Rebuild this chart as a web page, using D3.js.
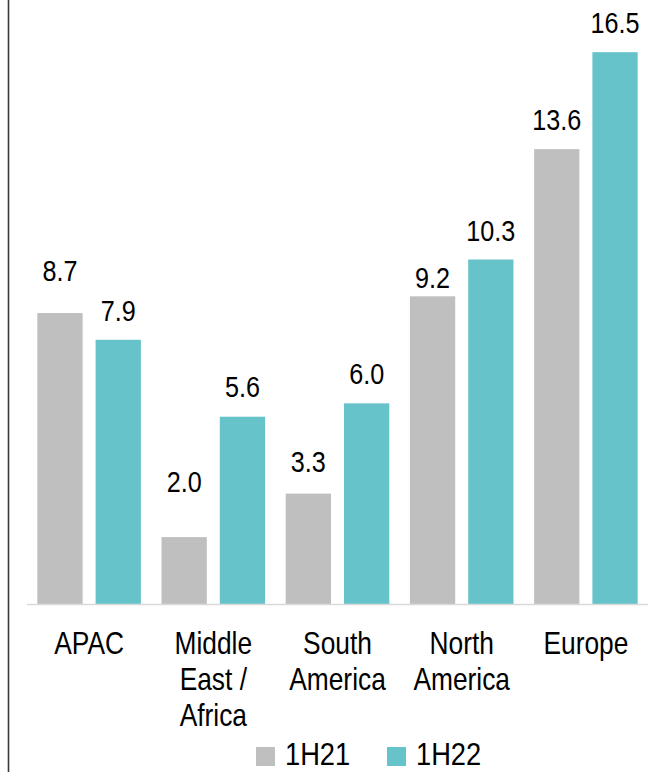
<!DOCTYPE html>
<html><head><meta charset="utf-8">
<script src="https://cdn.jsdelivr.net/npm/d3@7"></script>
<style>
html,body{margin:0;padding:0;background:#fff;}
svg{display:block;}
text{font-family:"Liberation Sans",Arial,sans-serif;fill:#000;}
</style></head>
<body>
<svg id="chart" width="669" height="772"></svg>
<script>
const categories = [["APAC"], ["Middle", "East /", "Africa"], ["South", "America"], ["North", "America"], ["Europe"]];
const seriesNames = ["1H21", "1H22"];
const values1H21 = [8.7, 2.0, 3.3, 9.2, 13.6];
const values1H22 = [7.9, 5.6, 6.0, 10.3, 16.5];

// label layout nudges (extra lift in px above the default offset)
const nudge = [[13, 26, 3, -11, 0], [0, 1, 0, 0, 0]];
const colors = ["#bfbfbf", "#66c3ca"];

const svg = d3.select("#chart");
const catKeys = categories.map(c => c.join(" "));
const x0 = d3.scaleBand().domain(catKeys).range([27, 648]).paddingInner(0).paddingOuter(0);
const x1 = d3.scaleBand().domain(seriesNames).range([0, x0.bandwidth()]).paddingInner(0.223).paddingOuter(0.177);
const y = d3.scaleLinear().domain([0, 18]).range([604, 2]);
const series = [values1H21, values1H22];

function ntext(sel, x, yy, size, sx, str, anchor) {
  return sel.append("text")
    .attr("transform", `translate(${x},${yy}) scale(${sx},1)`)
    .attr("text-anchor", anchor || "middle")
    .attr("font-size", size)
    .text(str);
}

// left border line
svg.append("line").attr("x1", 8.5).attr("x2", 8.5).attr("y1", 0).attr("y2", 772)
  .attr("stroke", "#3a3a3a").attr("stroke-width", 1.6);

const groups = svg.selectAll("g.grp").data(catKeys).join("g")
  .attr("transform", d => `translate(${x0(d)},0)`);

series.forEach((vals, si) => {
  groups.append("rect")
    .attr("x", x1(seriesNames[si]))
    .attr("width", x1.bandwidth())
    .attr("y", (d, i) => y(vals[i]))
    .attr("height", (d, i) => y(0) - y(vals[i]))
    .attr("fill", colors[si]);
  groups.each(function(d, i) {
    ntext(d3.select(this), x1(seriesNames[si]) + x1.bandwidth() / 2,
      y(vals[i]) - 19 - nudge[si][i], 30, 0.84, vals[i].toFixed(1));
  });
});

// baseline
svg.append("line").attr("x1", 27).attr("x2", 648).attr("y1", y(0) + 0.5).attr("y2", y(0) + 0.5)
  .attr("stroke", "#d9d9d9").attr("stroke-width", 1.5);

// category labels
groups.each(function(d, i) {
  const g = d3.select(this);
  categories[i].forEach((line, li) => {
    ntext(g, x0.bandwidth() / 2, 654 + li * 36, 31, 0.85, line);
  });
});

// legend
const legend = svg.append("g");
const legX = [256, 387];
seriesNames.forEach((s, si) => {
  legend.append("rect").attr("x", legX[si]).attr("y", 747).attr("width", 19).attr("height", 19).attr("fill", colors[si]);
  ntext(legend, legX[si] + 29, 765, 31, 0.88, s, "start");
});
</script>
</body></html>
